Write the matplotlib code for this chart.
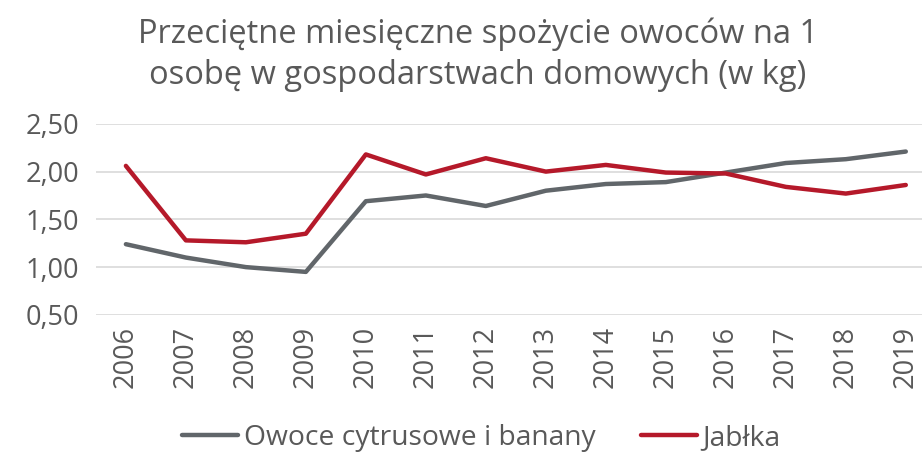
import matplotlib.pyplot as plt
import numpy as np

plt.rcParams['font.family'] = ['Open Sans', 'DejaVu Sans']

years = ['2006', '2007', '2008', '2009', '2010', '2011', '2012',
         '2013', '2014', '2015', '2016', '2017', '2018', '2019']
cytrusy = [1.24, 1.10, 1.00, 0.95, 1.69, 1.75, 1.64,
           1.80, 1.87, 1.89, 1.99, 2.09, 2.13, 2.21]
jablka = [2.06, 1.28, 1.26, 1.35, 2.18, 1.97, 2.14,
          2.00, 2.07, 1.99, 1.98, 1.84, 1.77, 1.86]
yticks = [0.5, 1.0, 1.5, 2.0, 2.5]

txt = '#595959'
fig = plt.figure(figsize=(9.22, 4.57), dpi=100)
ax = fig.add_axes([0.104, 0.311, 0.896, 0.418])

x = np.arange(len(years))
ax.plot(x, cytrusy, color='#61666a', lw=3.2, solid_capstyle='round', label='Owoce cytrusowe i banany')
ax.plot(x, jablka, color='#b5192a', lw=3.2, solid_capstyle='round', label='Jabłka')

ax.set_ylim(0.5, 2.5)
ax.set_xlim(-0.5, 13.27)
ax.set_yticks(yticks)
ax.set_yticklabels([f'{v:.2f}'.replace('.', ',') for v in yticks], fontsize=19.5, color=txt)
ax.set_xticks(x)
ax.set_xticklabels(years, rotation=90, fontsize=19.5, color=txt)
ax.tick_params(axis='y', length=0, pad=12)
ax.tick_params(axis='x', length=0, pad=8)
ax.grid(axis='y', color='#d9d9d9', lw=1.2)
ax.set_axisbelow(True)
for s in ax.spines.values():
    s.set_visible(False)

fig.text(0.518, 0.88, 'Przeciętne miesięczne spożycie owoców na 1\nosobę w gospodarstwach domowych (w kg)',
         ha='center', va='center', fontsize=23.5, color=txt, linespacing=1.3)

fig.legend(loc='center', bbox_to_anchor=(0.522, 0.042), ncol=2, frameon=False,
           fontsize=20.3, labelcolor=txt, handlelength=2.0, handletextpad=0.2, columnspacing=1.6)

fig.savefig('out.png', dpi=100)
